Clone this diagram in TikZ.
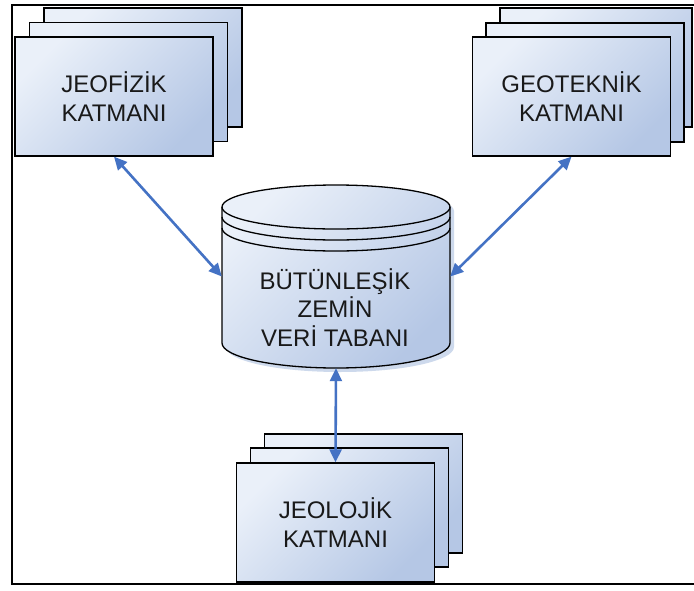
\documentclass[tikz,border=0pt]{standalone}
\usepackage{fontspec}
\setmainfont{Liberation Sans}
\usetikzlibrary{arrows.meta}
\definecolor{lite}{RGB}{234,240,249}
\definecolor{dark}{RGB}{181,199,229}
\definecolor{arr}{RGB}{68,114,196}
\definecolor{shad}{RGB}{205,217,236}
\tikzset{
  card/.style={draw=black, line width=1.3pt, top color=lite, bottom color=dark, shading angle=45,
    minimum width=198pt, minimum height=119pt, inner sep=0pt, align=center,
    font=\fontsize{24}{29}\selectfont, text=black!90},
  cylfill/.style={top color=lite, bottom color=dark, shading angle=45},
  cylline/.style={draw=black, line width=1.3pt},
  conn/.style={draw=arr, line width=2.6pt, {Triangle[length=13pt,width=12pt]}-{Triangle[length=13pt,width=12pt]}},
  lbl/.style={align=center, inner sep=0pt, font=\fontsize{24}{28.5}\selectfont, text=black!90},
}
\begin{document}
\begin{tikzpicture}[x=1pt,y=-1pt]
\useasboundingbox (0,0) rectangle (694,590);
\clip (0,0) rectangle (694,590);
\fill[white] (0,0) rectangle (694,590);
% frame
\draw[line width=2.5pt] (12,5) rectangle (710,584);

% JEOFIZIK stack
\node[card] (jeofb) at (143,67.5) {};
\node[card] (jeofm) at (128.5,82) {};
\node[card] (jeof) at (114,96.5) {JEOFİZİK\\KATMANI};

% GEOTEKNIK stack
\node[card, minimum width=192pt] (geotb) at (596,67.5) {};
\node[card] (geotm) at (585,82.5) {};
\node[card] (geot) at (571.5,96.5) {GEOTEKNİK\\KATMANI};

% JEOLOJIK stack
\node[card] (jeolb) at (363.5,493.5) {};
\node[card] (jeolm) at (349.5,507.5) {};
\node[card] (jeol) at (335.5,522.5) {JEOLOJİK\\KATMANI};

% database cylinder
\fill[shad] (226,211) .. controls (226,198.85) and (277,189) .. (340,189) .. controls (403,189) and (454,198.85) .. (454,211)
  -- (454,347) .. controls (454,360.8) and (403,372) .. (340,372) .. controls (277,372) and (226,360.8) .. (226,347) -- cycle;
\path[cylfill] (222,207) .. controls (222,194.85) and (273,185) .. (336,185) .. controls (399,185) and (450,194.85) .. (450,207)
  -- (450,343) .. controls (450,356.8) and (399,368) .. (336,368) .. controls (273,368) and (222,356.8) .. (222,343) -- cycle;
\draw[cylline] (222,207) .. controls (222,194.85) and (273,185) .. (336,185) .. controls (399,185) and (450,194.85) .. (450,207)
  -- (450,343) .. controls (450,356.8) and (399,368) .. (336,368) .. controls (273,368) and (222,356.8) .. (222,343) -- cycle;
\draw[cylline] (222,207) .. controls (222,219.15) and (273,229) .. (336,229) .. controls (399,229) and (450,219.15) .. (450,207);
\draw[cylline] (222,217) .. controls (222,229.7) and (273,240) .. (336,240) .. controls (399,240) and (450,229.7) .. (450,217);
\draw[cylline] (222,228) .. controls (222,240.7) and (273,251) .. (336,251) .. controls (399,251) and (450,240.7) .. (450,228);
\node[minimum width=228pt, minimum height=183pt, inner sep=0pt] (db) at (336,276.5) {};
\node[lbl] (dbtext) at (335,307.5) {BÜTÜNLEŞİK\\ZEMİN\\VERİ TABANI};

% connectors
\draw[conn] (jeof.south) -- (db.west);
\draw[conn] (geot.south) -- (db.east);
\draw[conn] (db.south) -- (jeol.north);
\end{tikzpicture}
\end{document}
